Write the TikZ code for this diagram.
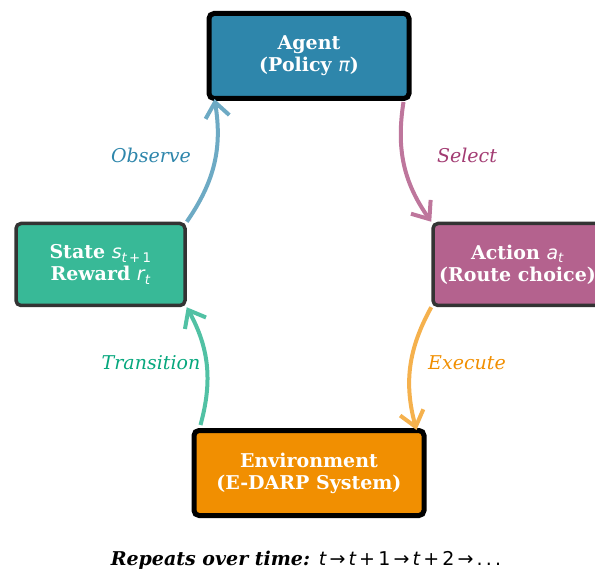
\documentclass[tikz,border=0pt]{standalone}
\usepackage{fontspec}
\setmainfont{DejaVu Serif}
\newfontfamily\mtxfont{DejaVu Sans}
\usetikzlibrary{arrows.meta}

\definecolor{agentBlue}{HTML}{2E86AB}
\definecolor{actionPink}{HTML}{A23B72}
\definecolor{envOrange}{HTML}{F18F01}
\definecolor{stateGreen}{HTML}{06A77D}
\definecolor{stateFill}{RGB}{56,185,151}
\definecolor{actionFill}{RGB}{180,98,142}
\definecolor{boxEdge}{RGB}{51,51,51}
\definecolor{observeLine}{RGB}{109,170,196}
\definecolor{selectLine}{RGB}{190,118,156}
\definecolor{executeLine}{RGB}{245,177,77}
\definecolor{transitionLine}{RGB}{81,193,164}

% math-like pieces in the sans font
\newcommand{\mvar}[1]{{\mtxfont\mdseries\itshape #1}}
\newcommand{\mnum}[1]{{\mtxfont\mdseries\upshape #1}}

\tikzset{
    % Style for the two main boxes
    main box/.style={
        draw=black, line width=5pt, rounded corners=5pt,
        text=white, align=center, inner sep=0pt,
        font=\bfseries\fontsize{19}{22}\selectfont,
        minimum width=200pt, minimum height=85pt
    },
    % Style for the state and action boxes
    side box/.style={
        main box, draw=boxEdge, line width=3.5pt,
        minimum width=169pt, minimum height=82pt
    },
    loop arrow/.style={
        line width=4pt, bend right=22,
        -{Straight Barb[length=15pt,width=24pt]}
    },
    step label/.style={
        font=\itshape\fontsize{19}{22}\selectfont
    }
}

\begin{document}
\begin{tikzpicture}[x=1pt,y=-1pt]

% Set the canvas size
\path[use as bounding box] (0,0) rectangle (595,572);

% Draw the four boxes
\node[main box, fill=agentBlue, minimum width=200pt] (agent) at (309,56)
    {Agent\\(Policy \mvar{π})};
\node[side box, fill=stateFill] (state) at (100.5,264.5)
    {State \mvar{s}\textsubscript{\mvar{t}\,\mnum{+}\,\mnum{1}}\\Reward \mvar{r}\textsubscript{\mvar{t}}};
\node[side box, fill=actionFill] (action) at (517.5,264.5)
    {Action \mvar{a}\textsubscript{\mvar{t}}\\(Route choice)};
\node[main box, fill=envOrange, minimum width=230pt] (env) at (309,473)
    {Environment\\(E-DARP System)};

% Free ends of the arrows on the main boxes
\coordinate (agent in) at ([xshift=8pt,yshift=2pt]agent.south west);
\coordinate (agent out) at ([xshift=-8pt,yshift=-1pt]agent.south east);
\coordinate (env in) at ([xshift=-10pt,yshift=-2pt]env.north east);
\coordinate (env out) at ([xshift=9pt,yshift=3pt]env.north west);

% Draw the loop arrows
\draw[loop arrow, observeLine] (state.north east) to (agent in);
\draw[loop arrow, selectLine] (agent out) to (action.north west);
\draw[loop arrow, executeLine] (action.south west) to (env in);
\draw[loop arrow, transitionLine] (env out) to (state.south east);

% Arrow labels
\node[step label, text=agentBlue] (observe) at (151,155) {Observe};
\node[step label, text=actionPink] (select) at (467,155) {Select};
\node[step label, text=envOrange] (execute) at (467,363) {Execute};
\node[step label, text=stateGreen] (transition) at (151,363) {Transition};

% Caption line
\node[font=\bfseries\itshape\fontsize{19}{22}\selectfont] (repeats) at (306,560)
    {Repeats over time: \mvar{t}\,\mnum{→}\,\mvar{t}\,\mnum{+}\,\mnum{1}\,\mnum{→}\,\mvar{t}\,\mnum{+}\,\mnum{2}\,\mnum{→}\,\mnum{.\,.\,.}};

\end{tikzpicture}
\end{document}
